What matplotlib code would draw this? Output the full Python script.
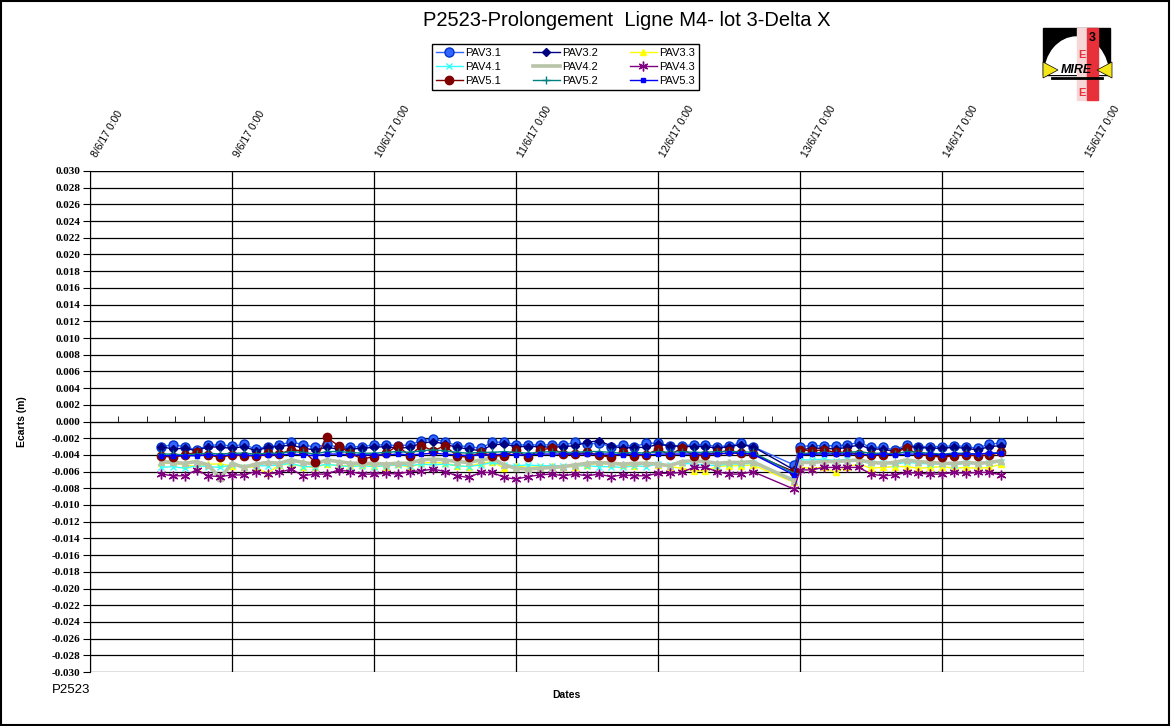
import matplotlib
matplotlib.use('Agg')
import matplotlib.pyplot as plt
import matplotlib.dates as mdates
import matplotlib.patches as mpatches
import pandas as pd
from matplotlib.ticker import MultipleLocator, FixedLocator, FuncFormatter
from matplotlib.lines import Line2D

plt.rcParams['axes.unicode_minus'] = False
plt.rcParams['font.family'] = ['Liberation Sans', 'DejaVu Sans']

# ---------------- data ----------------
times = (list(pd.date_range('2017-06-08 12:00', '2017-06-12 16:00', freq='2h'))
         + [pd.Timestamp('2017-06-12 23:00')]
         + list(pd.date_range('2017-06-13 00:00', '2017-06-14 10:00', freq='2h')))

day_ticks = list(pd.date_range('2017-06-08', '2017-06-15', freq='D'))

pav3_1 = [-0.0030, -0.0028, -0.0030, -0.0034, -0.00285, -0.0028, -0.00295, -0.00275, -0.0033, -0.0030, -0.00285, -0.0024, -0.0028, -0.00305, -0.00275, -0.0031, -0.00305, -0.0030,
          -0.0028, -0.0028, -0.0029, -0.0028, -0.0023, -0.0021, -0.0024, -0.0029, -0.0030, -0.0032, -0.0025, -0.00245, -0.0028, -0.0028, -0.0028, -0.0028, -0.0028, -0.0025,
          -0.0027, -0.0026, -0.0030, -0.0028, -0.0030, -0.0026, -0.0026, -0.0029, -0.0029, -0.0028, -0.0028, -0.0030, -0.0029, -0.0026, -0.0030,
          -0.0052,
          -0.0030, -0.0029, -0.0029, -0.0029, -0.0028, -0.0025, -0.0031, -0.0031, -0.0034, -0.0028, -0.0030, -0.0030, -0.0030, -0.0029, -0.0030, -0.0032, -0.0027, -0.0026]
pav3_2 = [-0.0030, -0.0033, -0.0032, -0.0035, -0.0030, -0.0031, -0.0032, -0.0030, -0.0035, -0.0031, -0.0030, -0.0028, -0.0032, -0.0034, -0.0031, -0.0033, -0.0033, -0.0032,
          -0.0031, -0.0030, -0.0032, -0.0031, -0.0026, -0.0024, -0.0027, -0.0031, -0.0033, -0.0035, -0.0028, -0.0027, -0.0030, -0.0030, -0.0030, -0.0031, -0.0030, -0.0029,
          -0.0025, -0.0023, -0.0029, -0.0032, -0.0031, -0.0031, -0.00275, -0.0029, -0.0030, -0.0030, -0.0030, -0.0032, -0.0030, -0.0028, -0.0030,
          -0.0058,
          -0.0034, -0.0032, -0.0032, -0.0033, -0.0031, -0.0028, -0.0033, -0.0033, -0.0036, -0.0030, -0.0031, -0.0032, -0.0032, -0.0031, -0.0032, -0.0034, -0.0030, -0.0029]
pav3_3 = [-0.0050, -0.0050, -0.0052, -0.0054, -0.0051, -0.0051, -0.0053, -0.0054, -0.0055, -0.0062, -0.0052, -0.0051, -0.0054, -0.0055, -0.0051, -0.0053, -0.0053, -0.0052,
          -0.0053, -0.0054, -0.0051, -0.0055, -0.0050, -0.0049, -0.0050, -0.0053, -0.0054, -0.0050, -0.0048, -0.0056, -0.0053, -0.0055, -0.0054, -0.0053, -0.0054, -0.0054,
          -0.0052, -0.0050, -0.0051, -0.0052, -0.0053, -0.0050, -0.0052, -0.0054, -0.0056, -0.0059, -0.0059, -0.0054, -0.0053, -0.0053, -0.0052,
          -0.0073,
          -0.0055, -0.0056, -0.0055, -0.0061, -0.0054, -0.0051, -0.0056, -0.0055, -0.0054, -0.0054, -0.0056, -0.0055, -0.0054, -0.0056, -0.0055, -0.0056, -0.0055, -0.0051]
pav4_1 = [-0.0055, -0.0054, -0.0056, -0.0053, -0.0054, -0.0055, -0.0052, -0.0054, -0.0053, -0.0053, -0.0052, -0.0050, -0.0054, -0.0054, -0.0051, -0.0053, -0.0054, -0.0053,
          -0.0054, -0.0053, -0.0052, -0.0053, -0.0051, -0.0052, -0.0051, -0.0053, -0.0054, -0.0052, -0.0049, -0.0052, -0.0053, -0.0052, -0.0053, -0.0053, -0.0053, -0.0053,
          -0.0053, -0.0054, -0.0054, -0.0055, -0.0053, -0.0054, -0.0051, -0.0052, -0.0050, -0.0051, -0.0052, -0.0053, -0.0051, -0.0051, -0.0050,
          -0.0069,
          -0.0046, -0.0046, -0.0045, -0.0047, -0.0045, -0.0048, -0.0050, -0.0050, -0.0051, -0.0049, -0.0050, -0.0051, -0.0051, -0.0052, -0.0050, -0.0051, -0.0050, -0.0048]
pav4_2 = [-0.0048, -0.0049, -0.0050, -0.0048, -0.0052, -0.0068, -0.0050, -0.0055, -0.0051, -0.0049, -0.0050, -0.0046, -0.0049, -0.0051, -0.0046, -0.0048, -0.0050, -0.0050,
          -0.0050, -0.0051, -0.0050, -0.0050, -0.0046, -0.0045, -0.0046, -0.0048, -0.0049, -0.0046, -0.0044, -0.0052, -0.0056, -0.0057, -0.0056, -0.0055, -0.0054, -0.0052,
          -0.0050, -0.0049, -0.0050, -0.0051, -0.0050, -0.0050, -0.0051, -0.0053, -0.0048, -0.0047, -0.0048, -0.0050, -0.0049, -0.0049, -0.0048,
          -0.0071,
          -0.0049, -0.0049, -0.0048, -0.0048, -0.0047, -0.0046, -0.0049, -0.0050, -0.0049, -0.0046, -0.0048, -0.0049, -0.0050, -0.0050, -0.0049, -0.0050, -0.0049, -0.0047]
pav4_3 = [-0.0063, -0.0065, -0.0065, -0.0058, -0.0065, -0.0066, -0.0064, -0.0064, -0.0060, -0.0063, -0.0061, -0.0057, -0.0065, -0.0063, -0.0063, -0.0058, -0.0060, -0.0063,
          -0.0063, -0.0062, -0.0063, -0.0060, -0.0059, -0.0057, -0.0060, -0.0065, -0.0067, -0.0061, -0.0061, -0.0067, -0.0069, -0.0066, -0.0064, -0.0063, -0.0065, -0.0063,
          -0.0065, -0.0063, -0.0066, -0.0064, -0.0065, -0.0065, -0.0062, -0.0062, -0.0061, -0.0055, -0.0055, -0.0060, -0.0063, -0.0063, -0.0060,
          -0.0081,
          -0.0058, -0.0058, -0.0055, -0.0055, -0.0055, -0.0055, -0.0063, -0.0065, -0.0064, -0.0061, -0.0062, -0.0063, -0.0063, -0.0061, -0.0062, -0.0061, -0.0061, -0.0064]
pav5_1 = [-0.0041, -0.0043, -0.0040, -0.0037, -0.0040, -0.0043, -0.0040, -0.0041, -0.0041, -0.0038, -0.0039, -0.0034, -0.0035, -0.0048, -0.0019, -0.0029, -0.0038, -0.0045,
          -0.0042, -0.0038, -0.0029, -0.0041, -0.0029, -0.0035, -0.0029, -0.0041, -0.0043, -0.0037, -0.0041, -0.0041, -0.0034, -0.0043, -0.0034, -0.0032, -0.0039, -0.0039,
          -0.0037, -0.0040, -0.0043, -0.0037, -0.0041, -0.0040, -0.0033, -0.0040, -0.0032, -0.0041, -0.0040, -0.0037, -0.0035, -0.0038, -0.0039,
          -0.0060,
          -0.0034, -0.0035, -0.0034, -0.0037, -0.0037, -0.0039, -0.0040, -0.0040, -0.0037, -0.0032, -0.0039, -0.0041, -0.0043, -0.0041, -0.0040, -0.0041, -0.0040, -0.0037]
pav5_2 = [-0.0039, -0.0039, -0.0040, -0.0039, -0.0038, -0.0039, -0.0038, -0.0038, -0.0039, -0.0038, -0.0038, -0.0036, -0.0037, -0.0039, -0.0036, -0.0036, -0.0037, -0.0038,
          -0.0038, -0.0037, -0.0036, -0.0037, -0.0035, -0.0034, -0.0035, -0.0037, -0.0038, -0.0037, -0.0037, -0.0036, -0.0037, -0.0038, -0.0037, -0.0036, -0.0037, -0.0037,
          -0.0036, -0.0036, -0.0037, -0.0038, -0.0037, -0.0038, -0.0036, -0.0037, -0.0036, -0.0037, -0.0037, -0.0036, -0.0036, -0.0036, -0.0037,
          -0.0062,
          -0.0038, -0.0038, -0.0037, -0.0038, -0.0037, -0.0036, -0.0038, -0.0038, -0.0039, -0.0036, -0.0037, -0.0038, -0.0039, -0.0038, -0.0038, -0.0039, -0.0038, -0.0037]
pav5_3 = [-0.0041, -0.0041, -0.0041, -0.0041, -0.0040, -0.0041, -0.0040, -0.0040, -0.0041, -0.0040, -0.0040, -0.0039, -0.0040, -0.0041, -0.0039, -0.0039, -0.0040, -0.0040,
          -0.0040, -0.0040, -0.0039, -0.0040, -0.0039, -0.0038, -0.0039, -0.0040, -0.0041, -0.0040, -0.0040, -0.0039, -0.0040, -0.0040, -0.0039, -0.0039, -0.0039, -0.0039,
          -0.0039, -0.0039, -0.0039, -0.0040, -0.0039, -0.0040, -0.0039, -0.0039, -0.0039, -0.0039, -0.0039, -0.0039, -0.0038, -0.0038, -0.0039,
          -0.0064,
          -0.0040, -0.0039, -0.0039, -0.0039, -0.0039, -0.0039, -0.0040, -0.0039, -0.0040, -0.0039, -0.0039, -0.0039, -0.0040, -0.0039, -0.0039, -0.0039, -0.0038, -0.0038]

series_names = ['PAV3.1', 'PAV3.2', 'PAV3.3', 'PAV4.1', 'PAV4.2', 'PAV4.3', 'PAV5.1', 'PAV5.2', 'PAV5.3']
series_values = [pav3_1, pav3_2, pav3_3, pav4_1, pav4_2, pav4_3, pav5_1, pav5_2, pav5_3]

title = 'P2523-Prolongement  Ligne M4- lot 3-Delta X'

# ---------------- styles ----------------
styles = {
    'PAV3.1': dict(color='#3366FF', marker='o', ms=6.5, mfc='#3366FF', mec='#0033CC', lw=1.0),
    'PAV3.2': dict(color='#000080', marker='D', ms=4, mfc='#000080', mec='#000080', lw=1.0),
    'PAV3.3': dict(color='#FFFF00', marker='^', ms=5, mfc='#FFFF00', mec='#FFFF00', lw=1.0),
    'PAV4.1': dict(color='#33FFFF', marker='x', ms=5, mfc='#33FFFF', mec='#33FFFF', lw=1.0),
    'PAV4.2': dict(color='#B8C4A8', marker='^', ms=4, mfc='#B8C4A8', mec='#B8C4A8', lw=2.6),
    'PAV4.3': dict(color='#800080', marker=(6, 2, 0), ms=7, mfc='#800080', mec='#800080', lw=1.0),
    'PAV5.1': dict(color='#800000', marker='o', ms=6, mfc='#800000', mec='#800000', lw=1.0),
    'PAV5.2': dict(color='#008080', marker='+', ms=6, mfc='#008080', mec='#008080', lw=1.0),
    'PAV5.3': dict(color='#0000FF', marker='s', ms=2.5, mfc='#0000FF', mec='#0000FF', lw=1.0),
}

W, H = 1171, 726
fig = plt.figure(figsize=(W / 100, H / 100), dpi=100)
fig.patch.set_facecolor('white')

x0, x1, ytop, ybot = 90, 1084, 171, 672
ax = fig.add_axes([x0 / W, 1 - ybot / H, (x1 - x0) / W, (ybot - ytop) / H])

xnum = mdates.date2num(times)
tick_num = list(mdates.date2num(day_ticks))
handles = {}
for name, vals in zip(series_names, series_values):
    st = styles[name]
    ln, = ax.plot(xnum, vals, color=st['color'], lw=st['lw'], marker=st['marker'],
                  markersize=st['ms'], markerfacecolor=st['mfc'], markeredgecolor=st['mec'],
                  markeredgewidth=1.0, zorder=3)
    handles[name] = ln
# legend proxy for the thick PAV4.2 line (no visible marker in legend)
handles['PAV4.2'] = Line2D([], [], color=styles['PAV4.2']['color'], lw=2.6)

ax.set_xlim(tick_num[0], tick_num[-1])
ax.set_ylim(-0.030, 0.030)

# grid
ax.yaxis.set_major_locator(MultipleLocator(0.002))
ax.grid(True, axis='y', color='black', lw=0.9, zorder=1)
for t in tick_num:
    ax.axvline(t, color='black', lw=0.9, zorder=1)
ax.axhline(0.030, color='#808080', lw=1.0, zorder=1.5)

for s in ['top', 'right']:
    ax.spines[s].set_visible(False)
ax.spines['left'].set_color('black')
ax.spines['bottom'].set_position(('data', 0))
ax.spines['bottom'].set_color('black')

ax.xaxis.set_major_locator(FixedLocator(tick_num))
ax.xaxis.set_minor_locator(MultipleLocator(0.2))
ax.tick_params(axis='x', which='both', labelbottom=False, direction='in', color='black')
ax.tick_params(axis='x', which='major', length=0)
ax.tick_params(axis='x', which='minor', length=4)

ax.yaxis.set_major_formatter(FuncFormatter(lambda v, p: f'{v:.3f}'))
ax.tick_params(axis='y', which='major', length=5, direction='out', color='black', pad=2,
               labelsize=8)
for lab in ax.get_yticklabels():
    lab.set_fontfamily('Liberation Serif')
    lab.set_fontweight('bold')

# top date labels
sec = ax.secondary_xaxis('top')
sec.xaxis.set_major_locator(FixedLocator(tick_num))
def datefmt(v, p):
    d = mdates.num2date(v)
    return f'{d.day}/{d.month}/{d.year % 100} 0:00'
sec.xaxis.set_major_formatter(FuncFormatter(datefmt))
sec.tick_params(axis='x', length=0, pad=12, labelsize=7.5)
sec.spines['top'].set_visible(False)
for lab in sec.get_xticklabels():
    lab.set_rotation(60)
    lab.set_ha('left')
    lab.set_va('top')
    lab.set_rotation_mode('anchor')

# texts
fig.text(627 / W, 1 - 20 / H, title, ha='center', va='center', fontsize=14.5)
fig.text(566 / W, 1 - 695 / H, 'Dates', ha='center', va='center', fontsize=7.5, fontweight='bold')
fig.text(22 / W, 1 - 422 / H, 'Ecarts (m)', ha='center', va='center', fontsize=7.5,
         fontweight='bold', rotation=90)
fig.text(52 / W, 1 - 690 / H, 'P2523', ha='left', va='center', fontsize=9.5)

# legend (row-wise order)
order = ['PAV3.1', 'PAV4.1', 'PAV5.1', 'PAV3.2', 'PAV4.2', 'PAV5.2', 'PAV3.3', 'PAV4.3', 'PAV5.3']
leg = fig.legend([handles[n] for n in order], order, ncol=3, loc='upper left',
                 bbox_to_anchor=(432 / W, 1 - 44 / H), fontsize=8, frameon=True,
                 fancybox=False, edgecolor='black', framealpha=1, handlelength=2.4,
                 columnspacing=2.9, handletextpad=0.2, labelspacing=0.35, borderpad=0.35,
                 borderaxespad=0)
leg.get_frame().set_linewidth(1.0)

# outer border
fig.add_artist(mpatches.Rectangle((0.001, 0.001), 0.997, 0.997, transform=fig.transFigure,
                                  fill=False, edgecolor='black', lw=1.5))

# logo
lg = fig.add_axes([1040 / W, 1 - 102 / H, 75 / W, 76 / H])
lg.set_xlim(0, 75)
lg.set_ylim(0, 76)
lg.axis('off')
black = mpatches.Rectangle((3, 27), 67, 47, color='black')
lg.add_patch(black)
dome = mpatches.Ellipse((36.5, 27), 64, 76, color='white')
lg.add_patch(dome)
dome.set_clip_path(black)
lg.add_patch(mpatches.Rectangle((37, 2), 10, 72, color='#F6D6D6'))
lg.add_patch(mpatches.Rectangle((47, 2), 11, 72, color='#E8303A'))
lg.text(42, 47, 'E', color='#E8303A', fontsize=8, fontweight='bold', ha='center', va='center')
lg.text(42, 9, 'E', color='#E8303A', fontsize=8, fontweight='bold', ha='center', va='center')
lg.text(52, 64, '3', color='black', fontsize=9, fontweight='bold', ha='center', va='center')
lg.add_patch(mpatches.Polygon([(3, 40), (3, 24), (18, 32)], closed=True, facecolor='#F5E61A',
                              edgecolor='black', lw=0.5))
lg.add_patch(mpatches.Polygon([(72, 40), (72, 24), (57, 32)], closed=True, facecolor='#F5E61A',
                              edgecolor='black', lw=0.5))
lg.text(36, 32, 'MIRE', color='black', fontsize=9, fontweight='bold', fontstyle='italic',
        ha='center', va='center')
lg.plot([12, 62], [24, 24], color='black', lw=2)

fig.savefig('out.png', dpi=100)
